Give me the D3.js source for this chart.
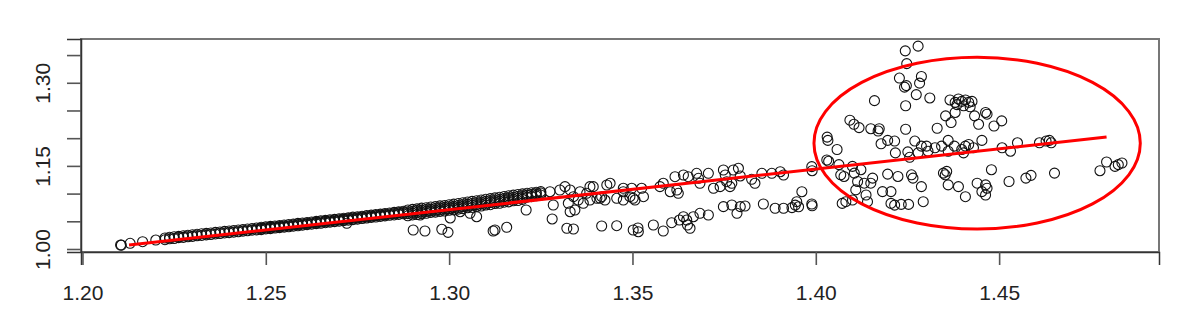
<!DOCTYPE html>
<html>
<head>
<meta charset="utf-8">
<script src="https://cdn.jsdelivr.net/npm/d3@7"></script>
<style>
  body { margin: 0; background: #fff; }
  svg { display: block; }
</style>
</head>
<body>
<div id="chart"></div>
<script>
// tick values and labels
const xTicks = [1.20, 1.25, 1.30, 1.35, 1.40, 1.45];
const yTicks = [1.00, 1.05, 1.10, 1.15, 1.20, 1.25, 1.30, 1.35];
const yLabelled = [1.00, 1.15, 1.30];

// fitted line end points
const lineX = [1.2127, 1.4793];
const lineY = [1.0072, 1.2022];

// highlighted region (centre and half axes, data units)
const ellipseCenter = [1.444, 1.191];
const ellipseRadius = [0.0445, 0.155];

// points: start of the series and the dense band
const bandPoints = [
  [1.2104, 1.0072], [1.2106, 1.0070], [1.2130, 1.0103], [1.2164, 1.0132], [1.2200, 1.0162],
  [1.2225, 1.0168], [1.2225, 1.0200], [1.22375, 1.0185], [1.22375, 1.0212], [1.2250, 1.0190],
  [1.2250, 1.0222], [1.22625, 1.0205], [1.22625, 1.0228], [1.2275, 1.0210], [1.2275, 1.0240],
  [1.22875, 1.0222], [1.22875, 1.0248], [1.2300, 1.0228], [1.2300, 1.0258], [1.23125, 1.0240],
  [1.23125, 1.0265], [1.2325, 1.0245], [1.2325, 1.0275], [1.23375, 1.0255], [1.23375, 1.0282],
  [1.2350, 1.0262], [1.2350, 1.0290], [1.23625, 1.0272], [1.23625, 1.0300], [1.2375, 1.0280],
  [1.2375, 1.0308], [1.23875, 1.0290], [1.23875, 1.0318], [1.2400, 1.0296], [1.2400, 1.0325],
  [1.24125, 1.0305], [1.24125, 1.0335], [1.2425, 1.0312], [1.2425, 1.0342], [1.24375, 1.0322],
  [1.24375, 1.0350], [1.2450, 1.0330], [1.2450, 1.0360], [1.24625, 1.0340], [1.24625, 1.0368],
  [1.2475, 1.0345], [1.2475, 1.0378],
  [1.24875, 1.0350], [1.24875, 1.0372], [1.24875, 1.0392], [1.2500, 1.0362], [1.2500, 1.0378],
  [1.2500, 1.0400], [1.25125, 1.0368], [1.25125, 1.0390], [1.25125, 1.0408], [1.2525, 1.0378],
  [1.2525, 1.0398], [1.2525, 1.0415], [1.25375, 1.0385], [1.25375, 1.0405], [1.25375, 1.0425],
  [1.2550, 1.0395], [1.2550, 1.0415], [1.2550, 1.0432], [1.25625, 1.0402], [1.25625, 1.0420],
  [1.25625, 1.0442], [1.2575, 1.0412], [1.2575, 1.0435], [1.2575, 1.0450], [1.25875, 1.0420],
  [1.25875, 1.0442], [1.25875, 1.0462], [1.2600, 1.0430], [1.2600, 1.0452], [1.2600, 1.0470],
  [1.26125, 1.0440], [1.26125, 1.0460], [1.26125, 1.0478], [1.2625, 1.0448], [1.2625, 1.0470],
  [1.2625, 1.0488], [1.26375, 1.0458], [1.26375, 1.0480], [1.26375, 1.0498], [1.2650, 1.0465],
  [1.2650, 1.0488], [1.2650, 1.0508], [1.26625, 1.0475], [1.26625, 1.0498], [1.26625, 1.0516],
  [1.2675, 1.0485], [1.2675, 1.0505], [1.2675, 1.0525], [1.26875, 1.0495], [1.26875, 1.0518],
  [1.26875, 1.0535], [1.2700, 1.0502], [1.2700, 1.0525], [1.2700, 1.0545], [1.27125, 1.0512],
  [1.27125, 1.0535], [1.27125, 1.0555], [1.2725, 1.0522], [1.2725, 1.0545], [1.2725, 1.0562],
  [1.27375, 1.0530], [1.27375, 1.0555], [1.27375, 1.0575], [1.2750, 1.0540], [1.2750, 1.0562],
  [1.2750, 1.0582], [1.27625, 1.0550], [1.27625, 1.0575], [1.27625, 1.0592], [1.2775, 1.0560],
  [1.2775, 1.0582], [1.2775, 1.0602], [1.27875, 1.0570], [1.27875, 1.0592], [1.27875, 1.0612],
  [1.2800, 1.0578], [1.2800, 1.0602], [1.2800, 1.0622], [1.28125, 1.0588], [1.28125, 1.0612],
  [1.28125, 1.0630], [1.2825, 1.0598], [1.2825, 1.0620], [1.2825, 1.0642], [1.28375, 1.0608],
  [1.28375, 1.0632], [1.28375, 1.0650], [1.2850, 1.0615], [1.2850, 1.0640], [1.2850, 1.0662],
  [1.28625, 1.0625], [1.28625, 1.0652], [1.28625, 1.0670], [1.2875, 1.0635], [1.2875, 1.0660],
  [1.2875, 1.0682],
  [1.28875, 1.0600], [1.28875, 1.0638], [1.28875, 1.0672], [1.28875, 1.0705], [1.2900, 1.0615],
  [1.2900, 1.0648], [1.2900, 1.0682], [1.2900, 1.0715], [1.29125, 1.0622], [1.29125, 1.0660],
  [1.29125, 1.0692], [1.29125, 1.0725], [1.2925, 1.0640], [1.2925, 1.0668], [1.2925, 1.0702],
  [1.2925, 1.0738], [1.29375, 1.0645], [1.29375, 1.0680], [1.29375, 1.0712], [1.29375, 1.0745],
  [1.2950, 1.0660], [1.2950, 1.0688], [1.2950, 1.0720], [1.2950, 1.0758], [1.29625, 1.0665],
  [1.29625, 1.0700], [1.29625, 1.0732], [1.29625, 1.0765], [1.2975, 1.0680], [1.2975, 1.0708],
  [1.2975, 1.0742], [1.2975, 1.0778], [1.29875, 1.0685], [1.29875, 1.0720], [1.29875, 1.0752],
  [1.29875, 1.0785], [1.3000, 1.0700], [1.3000, 1.0728], [1.3000, 1.0762], [1.3000, 1.0798],
  [1.30125, 1.0705], [1.30125, 1.0742], [1.30125, 1.0772], [1.30125, 1.0810], [1.3025, 1.0720],
  [1.3025, 1.0752], [1.3025, 1.0785], [1.3025, 1.0822], [1.30375, 1.0728], [1.30375, 1.0765],
  [1.30375, 1.0798], [1.30375, 1.0835], [1.3050, 1.0745], [1.3050, 1.0775], [1.3050, 1.0810],
  [1.3050, 1.0848], [1.30625, 1.0750], [1.30625, 1.0790], [1.30625, 1.0822], [1.30625, 1.0860],
  [1.3075, 1.0768], [1.3075, 1.0800], [1.3075, 1.0835], [1.3075, 1.0872], [1.30875, 1.0775],
  [1.30875, 1.0815], [1.30875, 1.0848], [1.30875, 1.0885], [1.3100, 1.0795], [1.3100, 1.0825],
  [1.3100, 1.0860], [1.3100, 1.0898], [1.31125, 1.0800], [1.31125, 1.0840], [1.31125, 1.0872],
  [1.31125, 1.0910], [1.3125, 1.0820], [1.3125, 1.0850], [1.3125, 1.0885], [1.3125, 1.0922],
  [1.31375, 1.0825], [1.31375, 1.0865], [1.31375, 1.0898], [1.31375, 1.0935], [1.3150, 1.0845],
  [1.3150, 1.0875], [1.3150, 1.0910], [1.3150, 1.0948], [1.31625, 1.0850], [1.31625, 1.0890],
  [1.31625, 1.0922], [1.31625, 1.0960], [1.3175, 1.0870], [1.3175, 1.0900], [1.3175, 1.0935],
  [1.3175, 1.0972], [1.31875, 1.0875], [1.31875, 1.0915], [1.31875, 1.0948], [1.31875, 1.0985],
  [1.3200, 1.0895], [1.3200, 1.0925], [1.3200, 1.0960], [1.3200, 1.0995], [1.32125, 1.0935],
  [1.32125, 1.0972], [1.32125, 1.1005], [1.3225, 1.0945], [1.3225, 1.0985], [1.3225, 1.1015],
  [1.32375, 1.0960], [1.32375, 1.0998], [1.32375, 1.1025], [1.3250, 1.0975], [1.3250, 1.1010],
  [1.3250, 1.1035]
];

// points: scattered part between the band and the circled region
const midPoints = [
  [1.2721, 1.0464], [1.2902, 1.0343], [1.2934, 1.0325], [1.2980, 1.0356], [1.2997, 1.0301],
  [1.3120, 1.0325], [1.3003, 1.0560], [1.3075, 1.0583], [1.2921, 1.0614], [1.3030, 1.0673],
  [1.3057, 1.0644], [1.3125, 1.0343], [1.3157, 1.0392], [1.3210, 1.0704], [1.3281, 1.0542],
  [1.3321, 1.0374], [1.3339, 1.0361], [1.3416, 1.0415], [1.3457, 1.0421], [1.3502, 1.0343],
  [1.3516, 1.0312], [1.3515, 1.0379], [1.3557, 1.0433], [1.3584, 1.0325], [1.3607, 1.0475],
  [1.3628, 1.0523], [1.3639, 1.0583], [1.3648, 1.0523], [1.3650, 1.0433], [1.3657, 1.0374],
  [1.3666, 1.0583], [1.3684, 1.0644], [1.3707, 1.0614], [1.3748, 1.0764], [1.3771, 1.0794],
  [1.3794, 1.0764], [1.3785, 1.0644], [1.3807, 1.0776], [1.3857, 1.0812], [1.3889, 1.0735],
  [1.3912, 1.0735], [1.3935, 1.0746], [1.3948, 1.0854], [1.3962, 1.1034], [1.3989, 1.0812],
  [1.3284, 1.0794], [1.3325, 1.0825], [1.3330, 1.0673], [1.3343, 1.0704], [1.3352, 1.0884],
  [1.3366, 1.0825], [1.3384, 1.0884], [1.3393, 1.1125], [1.3412, 1.0915], [1.3425, 1.0884],
  [1.3457, 1.0915], [1.3475, 1.0884], [1.3502, 1.0915], [1.3507, 1.0884], [1.3530, 1.0944],
  [1.3430, 1.1155], [1.3439, 1.1186], [1.3475, 1.1096], [1.3498, 1.1096], [1.3525, 1.1096],
  [1.3575, 1.1125], [1.3584, 1.1186], [1.3603, 1.1034], [1.3621, 1.1065], [1.3625, 1.1005],
  [1.3616, 1.1305], [1.3639, 1.1336], [1.3652, 1.1305], [1.3675, 1.1366], [1.3680, 1.1276],
  [1.3707, 1.1366], [1.3684, 1.1186], [1.3721, 1.1096], [1.3739, 1.1125], [1.3748, 1.1426],
  [1.3753, 1.1336], [1.3757, 1.1215], [1.3766, 1.1125], [1.3771, 1.1186], [1.3775, 1.1426],
  [1.3789, 1.1457], [1.3794, 1.1318], [1.3825, 1.1258], [1.3834, 1.1186], [1.3853, 1.1366],
  [1.3880, 1.1366], [1.3903, 1.1395], [1.3912, 1.1336], [1.3989, 1.1486], [1.4030, 1.1606],
  [1.3275, 1.1034], [1.3302, 1.1065], [1.3316, 1.1125], [1.3330, 1.1065], [1.3339, 1.0944],
  [1.3357, 1.1034], [1.3375, 1.1005], [1.3384, 1.1125], [1.3403, 1.0915], [1.3416, 1.0944],
  [1.3475, 1.1034], [1.3493, 1.0944], [1.3944, 1.0792], [1.3953, 1.0762], [1.3990, 1.0780]
];

// points: the circled region on the right
const outerPoints = [
  [1.4244, 1.3576], [1.4279, 1.3661], [1.4248, 1.3345], [1.4228, 1.3085], [1.4247, 1.2949],
  [1.4242, 1.2921], [1.4288, 1.3114], [1.4283, 1.2993], [1.4160, 1.2677], [1.4274, 1.2787],
  [1.4311, 1.2726], [1.4245, 1.2585], [1.4366, 1.2690], [1.4380, 1.2646], [1.4389, 1.2708],
  [1.4398, 1.2664], [1.4408, 1.2690], [1.4417, 1.2646], [1.4426, 1.2664], [1.4385, 1.2605],
  [1.4403, 1.2585], [1.4421, 1.2567], [1.4354, 1.2403], [1.4380, 1.2464], [1.4433, 1.2403],
  [1.4463, 1.2464], [1.4467, 1.2433], [1.4369, 1.2282], [1.4444, 1.2251], [1.4486, 1.2220],
  [1.4507, 1.2312], [1.4093, 1.2325], [1.4104, 1.2251], [1.4118, 1.2191], [1.4150, 1.2171],
  [1.4173, 1.2171], [1.4170, 1.2130], [1.4245, 1.2161], [1.4331, 1.2179], [1.4031, 1.2020],
  [1.4033, 1.1960], [1.4058, 1.1796], [1.4178, 1.1899], [1.4196, 1.1960], [1.4215, 1.1948],
  [1.4217, 1.1735], [1.4251, 1.1753], [1.4270, 1.1948], [1.4288, 1.1856], [1.4302, 1.1856],
  [1.4306, 1.1765], [1.4325, 1.1827], [1.4343, 1.1856], [1.4361, 1.1960], [1.4378, 1.1856],
  [1.4361, 1.1765], [1.4408, 1.1856], [1.4417, 1.1886], [1.4403, 1.1735], [1.4430, 1.1827],
  [1.4453, 1.1960], [1.4398, 1.1796], [1.4256, 1.1655], [1.4279, 1.1735], [1.4508, 1.1827],
  [1.4531, 1.1765], [1.4550, 1.1917], [1.4610, 1.1917], [1.4628, 1.1948], [1.4642, 1.1917],
  [1.4637, 1.1960], [1.4035, 1.1583], [1.4063, 1.1522], [1.4100, 1.1491], [1.4068, 1.1339],
  [1.4077, 1.1309], [1.4105, 1.1370], [1.4123, 1.1431], [1.3990, 1.1413], [1.4196, 1.1352],
  [1.4224, 1.1309], [1.4261, 1.1339], [1.4265, 1.1280], [1.4348, 1.1370], [1.4353, 1.1339],
  [1.4357, 1.1401], [1.4361, 1.1157], [1.4389, 1.1126], [1.4440, 1.1188], [1.4463, 1.1157],
  [1.4467, 1.1097], [1.4453, 1.1036], [1.4463, 1.0975], [1.4479, 1.1431], [1.4527, 1.1218],
  [1.4573, 1.1280], [1.4587, 1.1329], [1.4651, 1.1370], [1.4775, 1.1413], [1.4793, 1.1570],
  [1.4816, 1.1491], [1.4825, 1.1522], [1.4835, 1.1552], [1.4114, 1.1218], [1.4132, 1.1188],
  [1.4155, 1.1280], [1.4150, 1.1188], [1.4182, 1.1036], [1.4205, 1.1036], [1.4109, 1.1067],
  [1.4137, 1.0975], [1.4141, 1.0854], [1.4100, 1.0884], [1.4082, 1.0854], [1.4072, 1.0823],
  [1.4205, 1.0823], [1.4215, 1.0792], [1.4233, 1.0805], [1.4253, 1.0805], [1.4293, 1.0854],
  [1.4288, 1.1126], [1.4408, 1.0944]
];

const width = 1181;
const height = 316;
const plot = { left: 81, right: 1159, top: 39, bottom: 252 };
const fontFamily = "'Liberation Sans', Arial, sans-serif";

const x = d3.scaleLinear().domain([1.1996, 1.4936]).range([plot.left, plot.right]);
const y = d3.scaleLinear().domain([0.9946, 1.379]).range([plot.bottom, plot.top]);

const svg = d3
  .select("#chart")
  .append("svg")
  .attr("width", width)
  .attr("height", height);

// plot box
svg
  .append("rect")
  .attr("x", plot.left)
  .attr("y", plot.top)
  .attr("width", plot.right - plot.left)
  .attr("height", plot.bottom - plot.top)
  .attr("fill", "none")
  .attr("stroke", "#777")
  .attr("stroke-width", 2);

// x axis
const xAxis = svg
  .append("g")
  .attr("transform", `translate(0,${plot.bottom})`)
  .call(
    d3.axisBottom(x)
      .tickValues(xTicks)
      .tickSize(13)
      .tickPadding(20)
      .tickFormat(d3.format(".2f"))
  );

// y axis, only some ticks carry a label
const yAxis = svg
  .append("g")
  .attr("transform", `translate(${plot.left},0)`)
  .call(
    d3.axisLeft(y)
      .tickValues(yTicks)
      .tickSize(14)
      .tickFormat((d) => (yLabelled.some((v) => Math.abs(v - d) < 1e-9) ? d3.format(".2f")(d) : ""))
  );

yAxis
  .selectAll(".tick text")
  .attr("x", null)
  .attr("dy", null)
  .attr("text-anchor", "middle")
  .attr("transform", "translate(-31,0) rotate(-90)");

[xAxis, yAxis].forEach((g) => {
  g.attr("font-family", fontFamily).attr("font-size", 21);
  g.selectAll(".tick text").attr("fill", "#222");
  g.selectAll(".domain").attr("stroke", "#333").attr("stroke-width", 1.5);
  g.selectAll(".tick line").attr("stroke", "#555").attr("stroke-width", 1.6);
});

// data points as open circles
const allPoints = bandPoints.concat(midPoints, outerPoints);
svg
  .append("g")
  .attr("fill", "none")
  .attr("stroke", "#111")
  .attr("stroke-width", 1.1)
  .selectAll("circle")
  .data(allPoints)
  .join("circle")
  .attr("cx", (d) => x(d[0]))
  .attr("cy", (d) => y(d[1]))
  .attr("r", 5);

// fitted line
svg
  .append("line")
  .attr("x1", x(lineX[0]))
  .attr("y1", y(lineY[0]))
  .attr("x2", x(lineX[1]))
  .attr("y2", y(lineY[1]))
  .attr("stroke", "#f00")
  .attr("stroke-width", 3);

// red ellipse around the spread-out region
svg
  .append("ellipse")
  .attr("cx", x(ellipseCenter[0]))
  .attr("cy", y(ellipseCenter[1]))
  .attr("rx", x(ellipseCenter[0] + ellipseRadius[0]) - x(ellipseCenter[0]))
  .attr("ry", y(ellipseCenter[1]) - y(ellipseCenter[1] + ellipseRadius[1]))
  .attr("fill", "none")
  .attr("stroke", "#f00")
  .attr("stroke-width", 3);
</script>
</body>
</html>
